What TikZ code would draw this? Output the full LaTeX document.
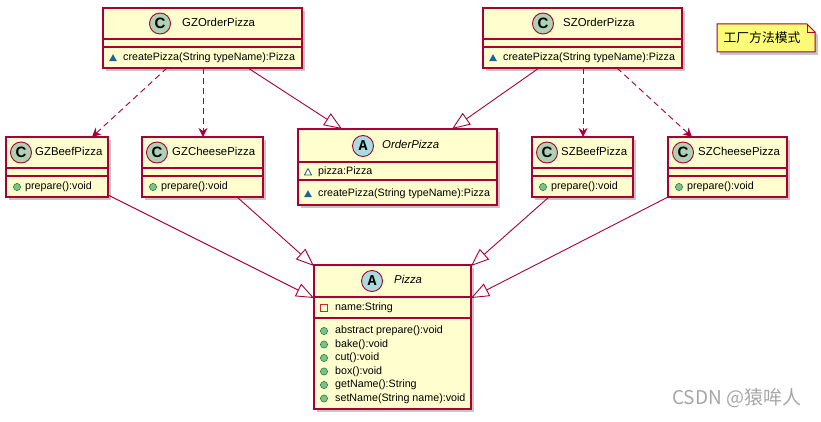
\documentclass[tikz,border=0pt]{standalone}
\usepackage{fontspec}
\setmainfont{Liberation Sans}
\newfontfamily\cjkfont{Noto Sans CJK SC}
\newfontfamily\spotmono{Liberation Mono}
\usetikzlibrary{arrows.meta,shadows,calc}
\definecolor{umlfill}{HTML}{FEFECE}
\definecolor{umlborder}{HTML}{A80036}
\definecolor{cfill}{HTML}{ADD1B2}
\definecolor{afill}{HTML}{A9DCDF}
\definecolor{notefill}{HTML}{FBFB77}
\definecolor{visblue}{HTML}{1963A0}
\definecolor{pubgreen}{HTML}{84BE84}
\definecolor{pubgreenb}{HTML}{038048}
\definecolor{privred}{HTML}{C82930}
\tikzset{
 umlbox/.style={draw=umlborder, line width=1.3pt, fill=umlfill, inner sep=0pt, outer sep=0pt, anchor=north west,
   drop shadow={shadow xshift=3pt, shadow yshift=-3pt, fill=black, opacity=0.22}},
 sepline/.style={draw=umlborder, line width=1.1pt},
 namefont/.style={font=\fontsize{11.4}{13}\selectfont, anchor=mid west, inner sep=0pt},
 memfont/.style={font=\fontsize{10.7}{12}\selectfont, anchor=mid west, inner sep=0pt},
 spot/.style={circle, draw=umlborder, line width=0.9pt, minimum size=21pt, inner sep=0pt},
 dep/.style={draw=umlborder, line width=0.9pt, dash pattern=on 6pt off 4pt, -{Stealth[length=9pt,width=9pt,inset=3pt]}},
 ext/.style={draw=umlborder, line width=0.9pt, -{Triangle[open, length=18pt, width=14pt, fill=white]}},
}
\newcommand\umlclass[7]{%
 \node[umlbox, minimum width={(#4-#2)*1pt}, minimum height={(#5-#3)*1pt}] (#1) at (#2,#3) {};
 \draw[sepline] (#1.west |- 0,#6) -- (#1.east |- 0,#6);
 \draw[sepline] (#1.west |- 0,#7) -- (#1.east |- 0,#7);
}
\newcommand\spotC{{\bfseries\fontsize{15}{15}\selectfont C}}
\newcommand\spotA{{\spotmono\bfseries\fontsize{15}{15}\selectfont A}}
\newcommand\icmeth[2]{\fill[visblue] (#1-4,#2+3.2) -- (#1+4,#2+3.2) -- (#1,#2-3.8) -- cycle;}
\newcommand\icfield[2]{\draw[visblue, line width=0.8pt, line join=round] (#1-3.6,#2+3) -- (#1+3.6,#2+3) -- (#1,#2-3.4) -- cycle;}
\newcommand\icpub[2]{\draw[pubgreenb, fill=pubgreen, line width=0.5pt] (#1,#2) circle (3.6pt);}
\newcommand\icpriv[2]{\draw[privred, line width=0.9pt] (#1-3.3,#2-3.3) rectangle (#1+3.3,#2+3.3);}
\begin{document}
\begin{tikzpicture}[x=1pt,y=-1pt]
\useasboundingbox (0,0) rectangle (821,422);
% ---------- classes ----------
\umlclass{gzorder}{103}{8}{302}{68}{39}{47}
\node[spot, fill=cfill] (gzorders) at (160,23.5) {\spotC};
\node[namefont] (gzordern) at (182,23.5) {GZOrderPizza};
\icmeth{113}{58}
\node[memfont] (gzorderm) at (123,58) {createPizza(String typeName):Pizza};

\umlclass{szorder}{483}{8}{682}{68}{39}{47}
\node[spot, fill=cfill] (szorders) at (543,23.5) {\spotC};
\node[namefont] (szordern) at (563,23.5) {SZOrderPizza};
\icmeth{493}{58}
\node[memfont] (szorderm) at (503,58) {createPizza(String typeName):Pizza};

\umlclass{gzbeef}{6}{137}{108}{197}{168}{176}
\node[spot, fill=cfill] (gzbeefs) at (21,152.5) {\spotC};
\node[namefont] (gzbeefn) at (35,152.5) {GZBeefPizza};
\icpub{17}{187}
\node[memfont] (gzbeefm) at (25,187) {prepare():void};

\umlclass{gzcheese}{142}{137}{263}{197}{168}{176}
\node[spot, fill=cfill] (gzcheeses) at (157,152.5) {\spotC};
\node[namefont] (gzcheesen) at (172,152.5) {GZCheesePizza};
\icpub{153}{187}
\node[memfont] (gzcheesem) at (161,187) {prepare():void};

\umlclass{orderpizza}{298}{129}{497}{205}{162}{180}
\node[spot, fill=afill] (orderpizzas) at (363,146) {\spotA};
\node[namefont, font=\fontsize{11.4}{13}\selectfont\itshape] (orderpizzan) at (382,146) {OrderPizza};
\icfield{308}{172}
\node[memfont] (orderpizzaf) at (318,172) {pizza:Pizza};
\icmeth{308}{194}
\node[memfont] (orderpizzam) at (318,194) {createPizza(String typeName):Pizza};

\umlclass{szbeef}{532}{137}{633}{197}{168}{176}
\node[spot, fill=cfill] (szbeefs) at (547,152.5) {\spotC};
\node[namefont] (szbeefn) at (561,152.5) {SZBeefPizza};
\icpub{543}{187}
\node[memfont] (szbeefm) at (551,187) {prepare():void};

\umlclass{szcheese}{668}{137}{787}{197}{168}{176}
\node[spot, fill=cfill] (szcheeses) at (683,152.5) {\spotC};
\node[namefont] (szcheesen) at (698,152.5) {SZCheesePizza};
\icpub{679}{187}
\node[memfont] (szcheesem) at (687,187) {prepare():void};

\umlclass{pizza}{314}{265}{471}{409}{297}{318}
\node[spot, fill=afill] (pizzas) at (372,281) {\spotA};
\node[namefont, font=\fontsize{11.4}{13}\selectfont\itshape] (pizzan) at (394,281) {Pizza};
\icpriv{324}{308}
\node[memfont] (pizzaf) at (335,308) {name:String};
\icpub{324}{331}
\node[memfont] (pizzam1) at (335,331) {abstract prepare():void};
\icpub{324}{344.5}
\node[memfont] (pizzam2) at (335,344.5) {bake():void};
\icpub{324}{358}
\node[memfont] (pizzam3) at (335,358) {cut():void};
\icpub{324}{371.5}
\node[memfont] (pizzam4) at (335,371.5) {box():void};
\icpub{324}{385}
\node[memfont] (pizzam5) at (335,385) {getName():String};
\icpub{324}{398.5}
\node[memfont] (pizzam6) at (335,398.5) {setName(String name):void};

% ---------- note ----------
\path[draw=umlborder, line width=1pt, fill=notefill,
  drop shadow={shadow xshift=3pt, shadow yshift=-3pt, fill=black, opacity=0.22}]
  (717,24) -- (807,24) -- (815,32) -- (815,52) -- (717,52) -- cycle;
\draw[umlborder, line width=0.8pt] (807,24) -- (807,32) -- (815,32);
\node[font=\cjkfont\fontsize{12.8}{14}\selectfont, inner sep=0pt] (note) at (762,38) {工厂方法模式};

% ---------- connectors ----------
\draw[dep] ([xshift=-35.5pt]gzorder.south) -- ([xshift=35pt]gzbeef.north);
\draw[dep] ([xshift=0.5pt]gzorder.south) -- ([xshift=0.5pt]gzcheese.north);
\draw[ext] ([xshift=45.5pt]gzorder.south) -- ([xshift=-55.5pt]orderpizza.north);
\draw[ext] ([xshift=-43.5pt]szorder.south) -- ([xshift=54.5pt]orderpizza.north);
\draw[dep] ([xshift=0.5pt]szorder.south) -- ([xshift=0.5pt]szbeef.north);
\draw[dep] ([xshift=34.5pt]szorder.south) -- ([xshift=-35.5pt]szcheese.north);
\draw[ext] ([yshift=2pt]gzbeef.south east) -- ([yshift=39pt]pizza.west);
\draw[ext] ([xshift=34.5pt]gzcheese.south) -- ([yshift=-1pt]pizza.north west);
\draw[ext] ([xshift=-33.5pt]szbeef.south) -- ([yshift=-1pt]pizza.north east);
\draw[ext] (szcheese.south west) -- ([yshift=39pt]pizza.east);

% ---------- watermark ----------
\node[font=\cjkfont\fontsize{19}{21}\selectfont, text=black!35, anchor=mid west, inner sep=0pt] (wm) at (672,402) {CSDN @猿哞人};
\end{tikzpicture}
\end{document}
